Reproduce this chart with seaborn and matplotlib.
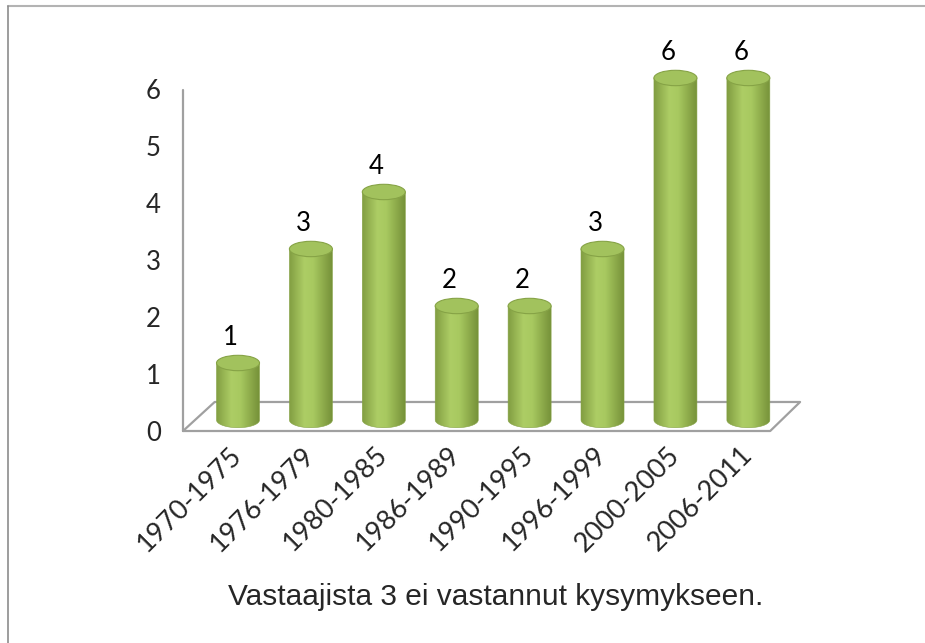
import matplotlib
matplotlib.use("Agg")
import matplotlib.pyplot as plt
import seaborn as sns
import numpy as np
from matplotlib.patches import Ellipse, PathPatch
from matplotlib.path import Path
from matplotlib.colors import LinearSegmentedColormap
from matplotlib.lines import Line2D
import matplotlib.transforms as mtransforms

# data
periods = ["1970-1975", "1976-1979", "1980-1985", "1986-1989",
           "1990-1995", "1996-1999", "2000-2005", "2006-2011"]
counts = [1, 3, 4, 2, 2, 3, 6, 6]
y_ticks = [0, 1, 2, 3, 4, 5, 6]
caption = "Vastaajista 3 ei vastannut kysymykseen."

sns.set_theme(style="white")
plt.rcParams["font.family"] = ["Lato", "DejaVu Sans"]

W, H = 925, 643
fig = plt.figure(figsize=(W / 100, H / 100), dpi=100)
ax = fig.add_axes([183 / W, (H - 431) / H, (810 - 183) / W, (431 - 50) / H])

sns.barplot(x=periods, y=counts, color="#9bbb59", width=0.59, ax=ax,
            errorbar=None)

# floor / axis geometry (layout in data units)
x0, x1 = -0.7545, 7.846
y0, y1 = -0.193, 6.491
for s in ax.spines.values():
    s.set_visible(False)

frame_c = "#a0a0a0"
floor_x = [x0, 7.30, 7.71, -0.32, x0]
floor_y = [y0, y0, 0.316, 0.316, y0]
ax.plot(floor_x, floor_y, color=frame_c, lw=1.6, zorder=1, clip_on=False)
ax.plot([x0, x0], [y0, 5.79], color=frame_c, lw=1.6, zorder=1, clip_on=False)

# cylinder shading
cmap = LinearSegmentedColormap.from_list(
    "cyl", [(0.0, "#819d41"), (0.35, "#adcd65"), (0.55, "#a8c960"),
            (1.0, "#748f37")])
grad = np.linspace(0, 1, 256).reshape(1, -1)
eh = 0.27  # ellipse height in data units
fs = 18.5

for patch, val in zip(ax.patches, counts):
    bx = patch.get_x()
    bw = patch.get_width()
    bh = patch.get_height()
    xc = bx + bw / 2
    patch.set_visible(False)
    t = np.linspace(np.pi, 2 * np.pi, 40)
    arc = np.column_stack([xc + bw / 2 * np.cos(t), eh / 2 * np.sin(t)])
    verts = np.vstack([[bx, bh], arc, [bx + bw, bh], [bx, bh]])
    codes = [Path.MOVETO] + [Path.LINETO] * (len(verts) - 2) + [Path.CLOSEPOLY]
    body = PathPatch(Path(verts, codes), facecolor="none", edgecolor="#86a346",
                     lw=0.4, zorder=3)
    ax.add_patch(body)
    im = ax.imshow(grad, cmap=cmap, aspect="auto",
                   extent=(bx, bx + bw, -eh / 2, bh), zorder=2)
    im.set_clip_path(body)
    top = Ellipse((xc, bh), bw, eh, facecolor="#a2c25d", edgecolor="#86a346",
                  lw=0.8, zorder=4)
    ax.add_patch(top)
    ax.text(xc - 0.1, bh + 0.45, str(val), ha="center", va="center",
            fontsize=fs, color="black", zorder=5)

ax.set_xlim(x0, x1)
ax.set_ylim(y0, y1)

ax.set_yticks([v + y0 for v in y_ticks])
ax.set_yticklabels([str(v) for v in y_ticks], fontsize=fs)
ax.tick_params(axis="y", length=0, pad=16)
ax.tick_params(axis="x", length=0, pad=8)
ax.set_xticks(range(len(periods)))
ax.set_xticklabels(periods, rotation=45, ha="right", rotation_mode="anchor",
                   fontsize=19.5)
shift = mtransforms.ScaledTranslation(-9 / 100, 0, fig.dpi_scale_trans)
for lab in ax.get_xticklabels():
    lab.set_transform(lab.get_transform() + shift)
ax.set_xlabel("")
ax.set_ylabel("")

fig.text(496 / W, (H - 605) / H, caption, ha="center", va="baseline",
         fontsize=21.5, family=["Liberation Sans", "DejaVu Sans"])

# outer chart border (only top and left visible in the crop)
fig.add_artist(Line2D([8 / W, 1], [1 - 6 / H, 1 - 6 / H], color="#b3b3b3",
                      lw=1.5, transform=fig.transFigure))
fig.add_artist(Line2D([8 / W, 8 / W], [0, 1 - 6 / H], color="#8c8c8c",
                      lw=1.2, transform=fig.transFigure))

fig.savefig("out.png", dpi=100)
